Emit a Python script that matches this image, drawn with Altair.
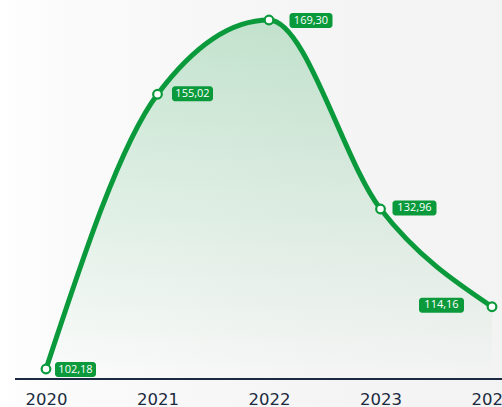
import altair as alt
import pandas as pd

years = ["2020", "2021", "2022", "2023", "2024"]
values = [102.18, 155.02, 169.30, 132.96, 114.16]

GREEN = "#0a9a3b"
NAVY = "#1b2a40"

df = pd.DataFrame({"year": years, "value": values})
base = alt.Chart(df)

x_enc = alt.X(
    "year:O",
    scale=alt.Scale(type="point", range=[31, 477], padding=0),
    axis=alt.Axis(
        title=None, labelAngle=0, domain=False, ticks=False, tickSize=0,
        labelFont="DejaVu Sans", labelFontSize=16.5, labelColor=NAVY,
        labelPadding=12, grid=False, zindex=1,
    ),
)
y_scale = alt.Scale(domain=[100.26, 173.15], zero=False, nice=False)
y_enc = alt.Y("value:Q", scale=y_scale, axis=None)

bg = alt.Chart(alt.Data(values=[{}])).mark_rect(
    color=alt.Gradient(
        gradient="linear",
        stops=[
            alt.GradientStop(color="#ffffff", offset=0),
            alt.GradientStop(color="#fbfbfb", offset=0.1),
            alt.GradientStop(color="#f5f5f5", offset=0.6),
            alt.GradientStop(color="#f3f3f3", offset=1),
        ],
        x1=0, x2=1, y1=0, y2=0,
    )
).encode(x=alt.value(-15), x2=alt.value(490), y=alt.value(0), y2=alt.value(410))

area = base.mark_area(
    interpolate="monotone",
    color=alt.Gradient(
        gradient="linear",
        stops=[
            alt.GradientStop(color="rgba(10,154,59,0.22)", offset=0),
            alt.GradientStop(color="rgba(10,154,59,0.10)", offset=0.55),
            alt.GradientStop(color="rgba(10,154,59,0.0)", offset=1),
        ],
        x1=0, x2=0, y1=0, y2=1,
    ),
).encode(x=x_enc, y=y_enc, y2=alt.Y2(datum=100.26))

axis_line = alt.Chart(alt.Data(values=[{}])).mark_rule(
    color=NAVY, strokeWidth=2
).encode(x=alt.value(0), x2=alt.value(490), y=alt.value(379))

line = base.mark_line(interpolate="monotone", color=GREEN, strokeWidth=5).encode(
    x=x_enc, y=y_enc
)

points = base.mark_point(
    shape="circle", filled=True, fill="white", stroke=GREEN, strokeWidth=2.2,
    size=75, opacity=1,
).encode(x=x_enc, y=y_enc)

label_dx = {"2020": 29.5, "2021": 35, "2022": 42, "2023": 34, "2024": -50.5}
label_dy = {"2020": 0.5, "2021": -0.5, "2022": 0.5, "2023": -1, "2024": -1.5}
label_w = {"2020": 41, "2021": 41, "2022": 43, "2023": 44, "2024": 45}

label_layers = []
for yr in years:
    sub = base.transform_filter(alt.datum.year == yr).transform_calculate(
        txt="replace(format(datum.value, '.2f'), '.', ',')"
    )
    box = sub.mark_rect(
        color=GREEN, cornerRadius=3, width=label_w[yr], height=15,
        xOffset=label_dx[yr], yOffset=label_dy[yr],
    ).encode(x=x_enc, y=y_enc)
    txt = sub.mark_text(
        color="white", font="Open Sans", fontSize=11, dx=label_dx[yr],
        dy=label_dy[yr], align="center", baseline="middle",
    ).encode(x=x_enc, y=y_enc, text="txt:N")
    label_layers += [box, txt]

chart = alt.layer(bg, area, axis_line, line, points, *label_layers).properties(
    width=487, height=379,
    padding={"left": 15, "top": 0, "right": 0, "bottom": 28},
    autosize=alt.AutoSizeParams(type="none"),
    background="white",
).configure_view(stroke=None)

chart.save("out.html", embed_options={"renderer": "svg", "actions": False})
